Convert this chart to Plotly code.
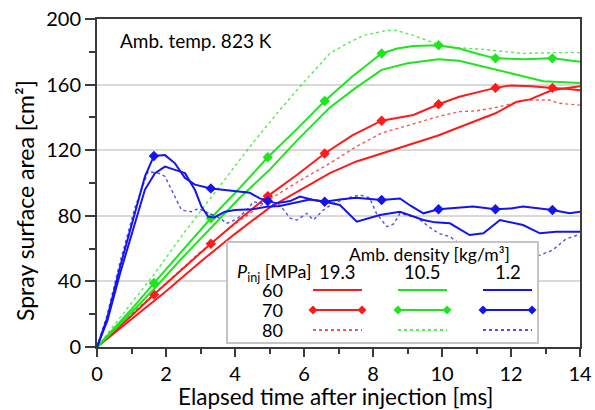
import numpy as np
import plotly.graph_objects as go

# elapsed time [ms] and spray surface area [cm2]
# red: 19.3 kg/m3, green: 10.5 kg/m3, blue: 1.2 kg/m3 ; 60 / 70 / 80 MPa
red60_t = [0, 1, 1.68, 2, 3, 4, 5, 6, 6.75, 7.5, 8.25, 9, 9.89, 10.5, 11, 11.55, 12.17, 12.55, 13.18, 13.6, 14]
red60_v = [0, 17, 28.5, 34, 52, 69, 85, 97, 106, 113, 118, 123, 129, 134, 138, 142.5, 149.6, 151, 156.5, 158, 159]

red70_t = [0, 1, 1.65, 2.5, 3.3, 4.14, 4.95, 5.8, 6.6, 7.4, 8.25, 9.17, 9.9, 10.5, 11.0, 11.55, 12.0, 12.6, 13.2, 13.6, 14]
red70_v = [0, 19, 32, 48, 63, 78, 92, 105, 118, 129, 138, 141.5, 148, 152.6, 155, 158, 159.5, 159, 158, 157.5, 156.5]

red80_t = [0, 1, 2, 3, 4, 5, 6, 6.75, 7.5, 8.25, 9, 9.89, 10.5, 11.0, 11.55, 12.0, 12.45, 13.1, 13.4, 14]
red80_v = [0, 20, 39, 58, 75, 90, 103, 112, 122, 130.5, 135, 140.5, 143.5, 144, 146, 148.5, 150.6, 150.6, 148.6, 147.5]

green60_t = [0, 1, 1.68, 2.5, 3.32, 4.14, 5, 5.8, 6.75, 7.5, 8.25, 9.0, 9.89, 10.5, 11.0, 11.55, 12.17, 12.94, 13.5, 14]
green60_v = [0, 21, 36, 55, 73, 91, 108, 126, 146, 158, 169, 173, 175.4, 174.6, 172, 169, 166, 162, 161.5, 161]

green70_t = [0, 1, 1.65, 2.5, 3.3, 4.14, 4.95, 5.8, 6.6, 7.4, 8.25, 8.7, 9.17, 9.9, 10.5, 11.0, 11.55, 12.4, 13.2, 13.6, 14]
green70_v = [0, 23, 39, 59, 78.5, 97, 115.7, 133, 150, 165, 179, 182, 183.5, 184, 182, 179, 176, 175.5, 176, 175, 174]

green80_t = [0, 1, 1.68, 2.5, 3.71, 4.5, 5.2, 5.88, 6.75, 7.24, 7.72, 8.4, 8.68, 9.17, 9.85, 10.14, 11.2, 12.35, 13.2, 14]
green80_v = [0, 27, 45, 69, 102, 124, 142, 158.7, 179, 185, 190, 193, 193, 190, 184.8, 183, 181.5, 179, 179.5, 179.5]

blue60_t = [0, 0.3, 0.67, 1.1, 1.39, 1.68, 1.97, 2.26, 2.55, 2.84, 3.03, 3.22, 3.4, 3.71, 4.0, 4.5, 4.92, 5.3,
            5.69, 6.17, 6.5, 6.85, 7.04, 7.53, 8.2, 8.78, 9.1, 9.46, 9.8, 10.23, 10.8, 11.2, 11.68, 12.35, 12.84, 13.3, 14]
blue60_v = [0, 16, 45, 76, 96, 106, 110, 108, 106, 95.7, 85.5, 79.5, 79, 82.5, 83.5, 84, 85.5, 86,
            88, 90, 89, 87.6, 86.6, 76.4, 80.5, 82.5, 80, 77.4, 76, 75.4, 68.3, 69.3, 77.4, 74.4, 69.3, 70.3, 70.3]

blue70_t = [0, 0.3, 0.67, 1.1, 1.39, 1.65, 1.97, 2.26, 2.55, 2.84, 3.3, 3.71, 4.14, 4.43, 4.72, 4.95, 5.2, 5.6,
            5.88, 6.27, 6.6, 7.04, 7.5, 8.25, 8.78, 9.1, 9.46, 9.9, 10.4, 10.9, 11.55, 12.0, 12.35, 13.2, 13.7, 14]
blue70_v = [0, 18, 49, 81.5, 104, 116.5, 117, 112, 103, 99, 96.7, 95.7, 94.7, 94, 90.6, 89, 87.6, 89,
            91.7, 89.6, 88.6, 90, 91, 89.6, 90.6, 86, 81.5, 84, 85, 85.6, 84, 84.5, 85.6, 83.5, 81.5, 82.5]

blue80_t = [0, 0.3, 0.67, 1.1, 1.48, 1.78, 1.97, 2.16, 2.36, 2.45, 2.74, 2.94, 3.2, 3.57, 3.76, 4.05, 4.34, 4.53,
            4.92, 5.3, 5.6, 5.79, 6.08, 6.27, 6.56, 6.85, 7.24, 7.62, 7.9, 8.1, 8.4, 8.6, 8.78, 9.27, 9.75, 9.95,
            10.23, 10.43, 11.0, 11.6, 12.2, 12.6, 12.84, 13.2, 13.6, 13.9, 14]
blue80_v = [0, 20, 52, 85, 107, 106, 104, 95.7, 87.6, 83.5, 82.5, 84.5, 82, 78.5, 75.4, 78, 83.5, 88.6,
            87, 86.6, 78.5, 77.4, 81.5, 77.4, 83.5, 87.6, 90.6, 92.7, 91, 81.5, 73.4, 75, 81.5, 79, 71.3, 69,
            67.3, 64.2, 61, 58, 56, 55, 56, 59, 66, 68, 67]

# diamond markers on the 70 MPa curves
mark_t = [1.65, 3.3, 4.95, 6.6, 8.25, 9.9, 11.55, 13.2]

densities = ['19.3', '10.5', '1.2']
pressures = ['60', '70', '80']

RED = '#ff1a1a'
GREEN = '#1ee61e'
BLUE = '#1414f0'
FONT = 'Lato'

series = [
    (red60_t, red60_v, RED, 'solid'), (red70_t, red70_v, RED, 'mark'), (red80_t, red80_v, RED, 'dot'),
    (green60_t, green60_v, GREEN, 'solid'), (green70_t, green70_v, GREEN, 'mark'), (green80_t, green80_v, GREEN, 'dot'),
    (blue60_t, blue60_v, BLUE, 'solid'), (blue70_t, blue70_v, BLUE, 'mark'), (blue80_t, blue80_v, BLUE, 'dot'),
]

fig = go.Figure()
for t, v, col, kind in series:
    if kind == 'dot':
        fig.add_trace(go.Scatter(x=t, y=v, mode='lines', line=dict(color=col, width=1.4, dash='dot'),
                                 opacity=0.75, showlegend=False))
    else:
        fig.add_trace(go.Scatter(x=t, y=v, mode='lines', line=dict(color=col, width=2), showlegend=False))
    if kind == 'mark':
        fig.add_trace(go.Scatter(x=mark_t, y=np.interp(mark_t, t, v), mode='markers',
                                 marker=dict(symbol='diamond', size=8, color=col), showlegend=False))

# plot area in pixels: x 97..580, y 19..347
L, R, T, B = 97, 580, 19, 347
def px(x):
    return (x - L) / (R - L)
def py(y):
    return (B - y) / (B - T)

def label(x, y, text, size=18, xanchor='center', angle=0):
    return dict(x=px(x), y=py(y), xref='paper', yref='paper', text=text, showarrow=False,
                xanchor=xanchor, yanchor='middle', textangle=angle, borderpad=0,
                font=dict(size=size, color='black', family=FONT))

shapes = [dict(type='rect', xref='paper', yref='paper', x0=px(227), x1=px(538), y0=py(343), y1=py(242),
               fillcolor='white', line=dict(color='#c4c4c4', width=2), layer='above')]
annotations = []

cols_x = [(313, 362), (398, 447), (483, 532)]
rows_y = [290, 310, 330]
colors = [RED, GREEN, BLUE]
for (xa, xb), col, dens in zip(cols_x, colors, densities):
    annotations.append(label((xa + xb) / 2, 272, dens, size=18.5))
    for j, yy in enumerate(rows_y):
        dash = 'dot' if j == 2 else 'solid'
        shapes.append(dict(type='line', xref='paper', yref='paper', x0=px(xa), x1=px(xb), y0=py(yy), y1=py(yy),
                           line=dict(color=col, width=2 if j < 2 else 1.4, dash=dash), layer='above'))
        if j == 1:
            for xx in (xa, xb):
                shapes.append(dict(type='path', xref='paper', yref='paper', xsizemode='pixel', ysizemode='pixel',
                                   xanchor=px(xx), yanchor=py(yy), path='M -4.5 0 L 0 4.5 L 4.5 0 L 0 -4.5 Z',
                                   fillcolor=col, line=dict(color=col, width=0), layer='above'))

for p, yy in zip(pressures, rows_y):
    annotations.append(label(272, yy, p))

annotations.append(label(429, 254, 'Amb. density [kg/m³]', size=17.5))
annotations.append(label(236, 272, '<i>P</i><sub>inj</sub> [MPa]', xanchor='left'))
annotations.append(label(119, 41, 'Amb. temp. 823 K', size=19, xanchor='left'))
annotations.append(label(25, 201, 'Spray surface area [cm²]', size=23, angle=-90))
annotations.append(label(335, 396, 'Elapsed time after injection [ms]', size=22.5))

axis_common = dict(showline=True, linecolor='#3a3a3a', linewidth=2, mirror=True, ticks='outside',
                   tickcolor='#3a3a3a', tickwidth=1.5, zeroline=False, automargin=False,
                   tickfont=dict(size=20, color='black', family=FONT))

fig.update_layout(
    width=595, height=410,
    margin=dict(l=L, r=595 - R, t=T, b=410 - B, autoexpand=False),
    plot_bgcolor='white', paper_bgcolor='white',
    xaxis=dict(range=[0, 14], dtick=2, showgrid=False, ticklen=8,
               minor=dict(dtick=1, ticks='outside', ticklen=5, tickcolor='#3a3a3a', tickwidth=1.5),
               **axis_common),
    yaxis=dict(range=[0, 200], dtick=40, showgrid=True, gridcolor='#d9d9d9', gridwidth=1.5, ticklen=10,
               minor=dict(dtick=20, ticks='outside', ticklen=6, tickcolor='#3a3a3a', tickwidth=1.5, showgrid=False),
               **axis_common),
    shapes=shapes,
    annotations=annotations,
    showlegend=False,
)

fig.write_html("out.html", config={'displayModeBar': False},
               post_script="document.body.style.margin='0';")
